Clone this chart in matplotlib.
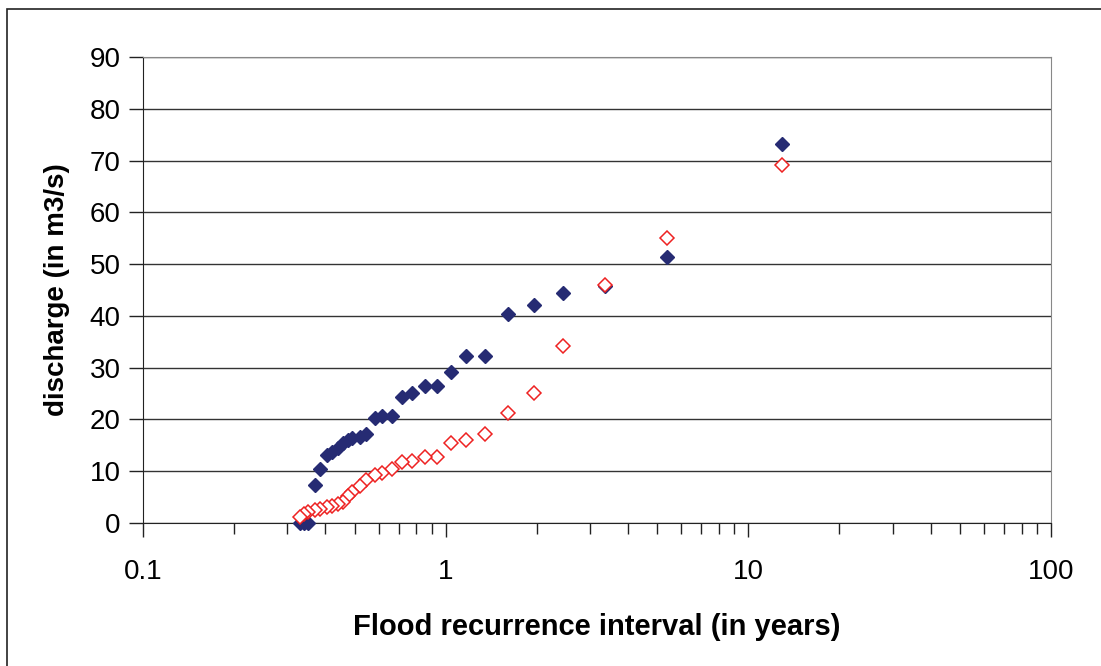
import numpy as np
import matplotlib.pyplot as plt
from matplotlib.ticker import LogLocator, FixedLocator, NullFormatter
from matplotlib.patches import Rectangle

plt.rcParams['font.family'] = ['Liberation Sans', 'DejaVu Sans']

# recurrence interval (years), same for both series
interval = [12.9, 5.38, 3.36, 2.45, 1.96, 1.61, 1.35, 1.17, 1.04, 0.938,
            0.855, 0.773, 0.719, 0.663, 0.615, 0.584, 0.546, 0.521, 0.489,
            0.477, 0.459, 0.442, 0.420, 0.404, 0.385, 0.370, 0.351, 0.340, 0.330]

discharge_a = [73.2, 51.4, 45.8, 44.4, 42.1, 40.3, 32.3, 32.3, 29.1, 26.5,
               26.5, 25.2, 24.4, 20.7, 20.7, 20.2, 17.2, 16.7, 16.5, 16.0,
               15.4, 14.4, 13.8, 13.1, 10.4, 7.3, 0.0, 0.0, 0.0]

discharge_b = [69.2, 55.0, 46.0, 34.1, 25.2, 21.3, 17.2, 16.0, 15.5, 12.8,
               12.8, 12.0, 11.8, 10.5, 9.7, 9.2, 8.4, 7.2, 6.0, 5.2,
               4.0, 3.6, 3.2, 3.0, 2.8, 2.5, 2.2, 1.8, 1.2]

fig = plt.figure(figsize=(11.01, 6.66), dpi=100)
ax = fig.add_axes([143 / 1101, 1 - 523 / 666, 908 / 1101, 466 / 666])

# outer chart frame (only left/top visible in the original)
fig.patches.append(Rectangle((7 / 1101, -0.1), 1.2, (658 + 66) / 666,
                             transform=fig.transFigure, fill=False,
                             edgecolor='#222222', lw=1.2))

ax.plot(interval, discharge_a, ls='none', marker='D', ms=7.6,
        color='#262b73', mec='#262b73', zorder=3, clip_on=False)
ax.plot(interval, discharge_b, ls='none', marker='D', ms=6.8,
        mfc='white', mec='#ee2222', mew=1.1, zorder=4, clip_on=False)

ax.set_xscale('log')
ax.set_xlim(0.1, 100)
ax.set_ylim(0, 90)
ax.xaxis.set_major_locator(FixedLocator([0.1, 1, 10, 100]))
ax.set_xticklabels(['0.1', '1', '10', '100'])
ax.xaxis.set_minor_locator(LogLocator(base=10, subs=np.arange(2, 10)))
ax.xaxis.set_minor_formatter(NullFormatter())
ax.set_yticks(np.arange(0, 91, 10))

ax.grid(axis='y', color='#333333', lw=1)
ax.set_axisbelow(True)
for side in ['top', 'right']:
    ax.spines[side].set_color('#888888')
for side in ['left', 'bottom']:
    ax.spines[side].set_color('#222222')

ax.tick_params(axis='both', which='major', direction='out', length=10,
               width=1, labelsize=20, color='#222222', pad=6)
ax.tick_params(axis='x', which='major', pad=16)
ax.tick_params(axis='x', which='minor', direction='out', length=8,
               width=1, color='#222222')

ax.set_xlabel('Flood recurrence interval (in years)', fontsize=21,
              fontweight='bold', labelpad=20)
ax.set_ylabel('discharge (in m3/s)', fontsize=20, fontweight='bold',
              labelpad=14)

fig.savefig('out.png', dpi=100)
